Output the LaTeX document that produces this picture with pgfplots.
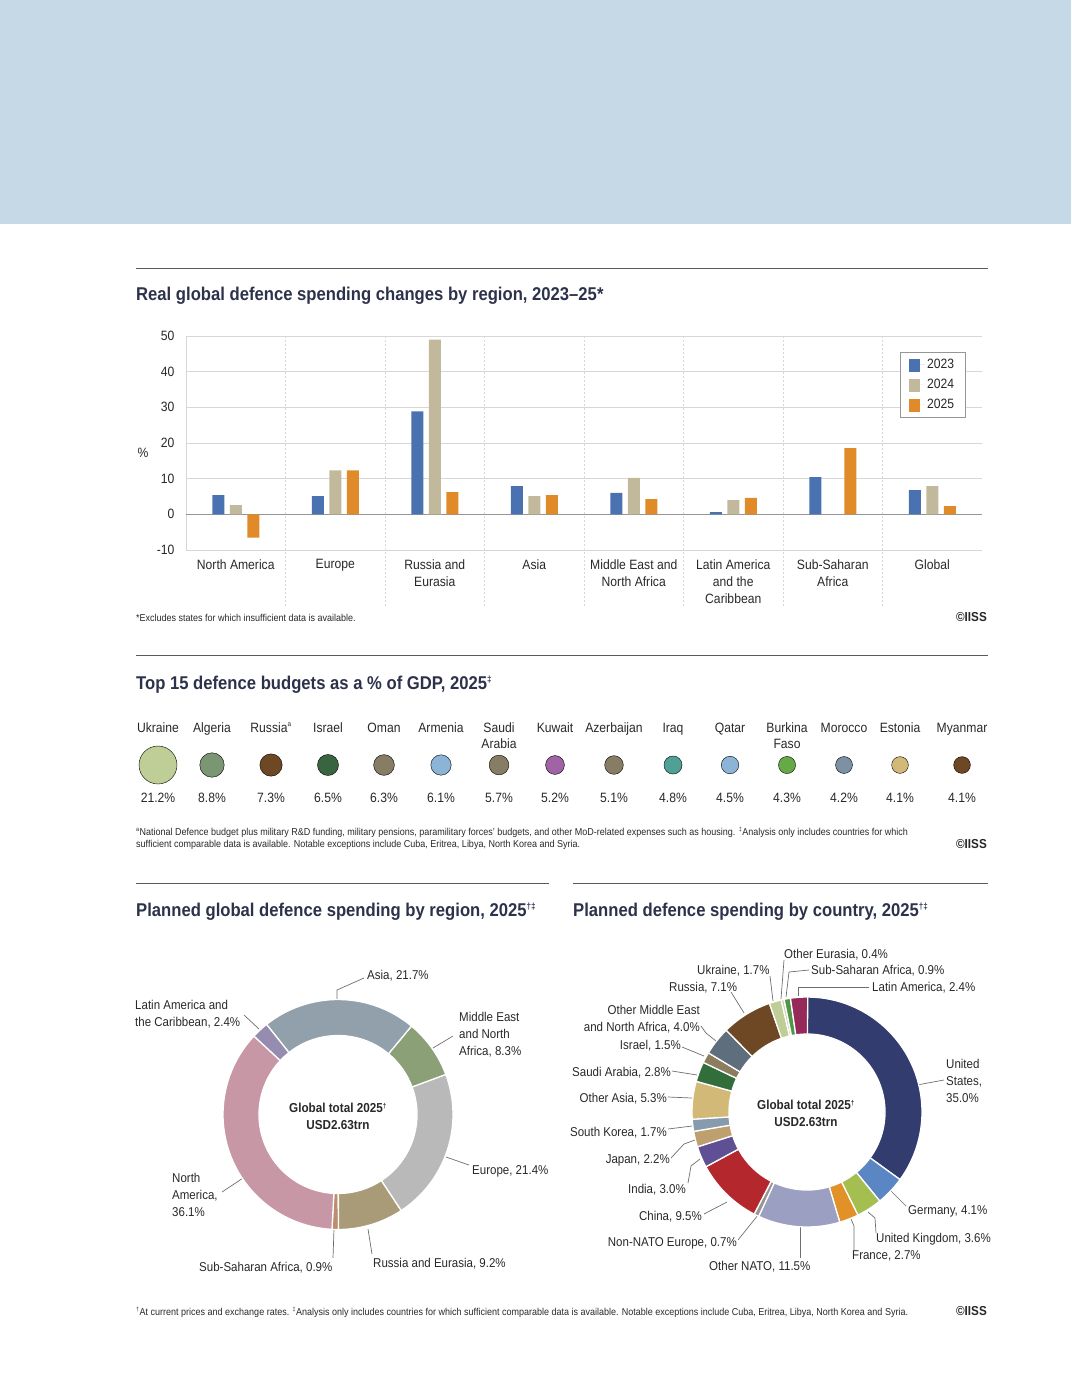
\documentclass[border=0pt]{standalone}
\usepackage{pgfplots}
\pgfplotsset{compat=1.18}
\usepackage{fontspec}
\setmainfont{Liberation Sans}[FakeStretch=0.9]
\definecolor{band}{RGB}{197,217,230}
\definecolor{ttl}{RGB}{45,50,75}
\definecolor{txt}{RGB}{40,40,40}
\definecolor{rule}{RGB}{90,90,90}
\definecolor{gridc}{RGB}{215,215,215}
\definecolor{zeroc}{RGB}{150,150,150}
\definecolor{lead}{RGB}{110,110,110}
\definecolor{c23}{RGB}{74,114,176}
\definecolor{c24}{RGB}{194,185,157}
\definecolor{c25}{RGB}{224,138,42}
% bubbles
\definecolor{bUkr}{RGB}{190,206,150}
\definecolor{bAlg}{RGB}{122,150,115}
\definecolor{bRus}{RGB}{110,72,36}
\definecolor{bIsr}{RGB}{56,100,64}
\definecolor{bOli}{RGB}{135,125,100}
\definecolor{bBlu}{RGB}{140,180,215}
\definecolor{bKuw}{RGB}{160,100,165}
\definecolor{bIrq}{RGB}{80,160,150}
\definecolor{bBur}{RGB}{100,170,70}
\definecolor{bMor}{RGB}{125,145,165}
\definecolor{bEst}{RGB}{210,185,120}
% left donut
\definecolor{rNA}{RGB}{200,151,165}
\definecolor{rLA}{RGB}{150,140,175}
\definecolor{rAS}{RGB}{145,160,170}
\definecolor{rME}{RGB}{140,160,120}
\definecolor{rEU}{RGB}{185,185,185}
\definecolor{rRU}{RGB}{170,155,120}
\definecolor{rSS}{RGB}{190,140,110}
% right donut
\definecolor{kUS}{RGB}{50,60,110}
\definecolor{kDE}{RGB}{90,135,195}
\definecolor{kUK}{RGB}{165,190,80}
\definecolor{kFR}{RGB}{225,145,40}
\definecolor{kON}{RGB}{155,160,195}
\definecolor{kNN}{RGB}{150,150,150}
\definecolor{kCN}{RGB}{180,40,45}
\definecolor{kIN}{RGB}{95,80,150}
\definecolor{kJP}{RGB}{190,160,110}
\definecolor{kKR}{RGB}{135,155,175}
\definecolor{kOA}{RGB}{210,185,120}
\definecolor{kSA}{RGB}{50,110,60}
\definecolor{kIL}{RGB}{140,125,95}
\definecolor{kOM}{RGB}{95,110,125}
\definecolor{kRU}{RGB}{110,72,36}
\definecolor{kUA}{RGB}{190,206,150}
\definecolor{kOE}{RGB}{205,205,185}
\definecolor{kSS}{RGB}{80,150,70}
\definecolor{kLA}{RGB}{150,40,90}

\newcommand\fs[1]{\fontsize{#1}{#1}\selectfont}
\newcommand\bub[3]{\addplot[only marks, mark=*, mark options={draw=none, fill=#3}, mark size={19*sqrt(#2/21.2)}] coordinates {(#1,0)};}
% donut slice: value, colour
\newcommand\slice[2]{%
  \pgfmathsetmacro\aE{\aS+\dirn*3.6*#1}%
  \edef\temp{\noexpand\fill[#2, draw=white, line width=1.3pt] (axis cs:{\Ro*cos(\aS)},{\Ro*sin(\aS)}) arc[start angle=\aS, end angle=\aE, radius=\Ro pt] -- (axis cs:{\Ri*cos(\aE)},{\Ri*sin(\aE)}) arc[start angle=\aE, end angle=\aS, radius=\Ri pt] -- cycle;}%
  \temp
  \global\let\aS\aE}
\newcommand\lab[4]{\node[anchor=base #3, inner sep=0pt, text=txt, font=\fs{12.8}] at (#1,#2) {#4};}
\newcommand\legsq[1]{\fill[#1] (0pt,-7pt) rectangle (11pt,6pt); \path (0pt,0pt) -- (16pt,0pt);}

\begin{document}
\begin{tikzpicture}
\path[use as bounding box] (0,0) rectangle (1071pt,-1394pt);
\fill[band] (0,0) rectangle (1071pt,-224pt);
\begin{scope}[x=1pt,y=-1pt]
% ---- section 1
\draw[rule, line width=0.8pt] (136,268) -- (988,268);
\node[anchor=base west, inner sep=0pt, text=ttl, font=\bfseries\fs{18.5}] at (136,300) {Real global defence spending changes by region, 2023–25*};
\node[text=txt, font=\fs{13.5}, inner sep=0pt] at (143,453) {\%};
\node[anchor=base west, inner sep=0pt, text=txt, font=\fs{10}] at (136,621) {*Excludes states for which insufficient data is available.};
\node[anchor=base east, inner sep=0pt, text=txt, font=\bfseries\fs{13}] at (987,621) {©IISS};
% ---- section 2
\draw[rule, line width=0.8pt] (136,655) -- (988,655);
\node[anchor=base west, inner sep=0pt, text=ttl, font=\bfseries\fs{18.5}] at (136,689) {Top 15 defence budgets as a \% of GDP, 2025\textsuperscript{\fs{9}‡}};
\foreach \x/\n/\v in {158/Ukraine/21.2, 212/Algeria/8.8, 328/Israel/6.5, 384/Oman/6.3, 441/Armenia/6.1, 555/Kuwait/5.2, 614/Azerbaijan/5.1, 673/Iraq/4.8, 730/Qatar/4.5, 844/Morocco/4.2, 900/Estonia/4.1, 962/Myanmar/4.1, 271/Russia/7.3, 499/Saudi/5.7, 787/Burkina/4.3}{
  \node[anchor=base, inner sep=0pt, text=txt, font=\fs{13.5}] at (\x,802) {\v\%};}
\foreach \x/\n in {158/Ukraine, 212/Algeria, 328/Israel, 384/Oman, 441/Armenia, 555/Kuwait, 614/Azerbaijan, 673/Iraq, 730/Qatar, 844/Morocco, 900/Estonia, 962/Myanmar, 499/Saudi, 787/Burkina}{
  \node[anchor=base, inner sep=0pt, text=txt, font=\fs{13.5}] at (\x,732) {\n};}
\node[anchor=base, inner sep=0pt, text=txt, font=\fs{13.5}] at (271,732) {Russia\textsuperscript{\fs{7}a}};
\node[anchor=base, inner sep=0pt, text=txt, font=\fs{13.5}] at (499,748) {Arabia};
\node[anchor=base, inner sep=0pt, text=txt, font=\fs{13.5}] at (787,748) {Faso};
\node[anchor=base west, inner sep=0pt, text=txt, font=\fs{10}] at (136,835) {\textsuperscript{\fs{6}a}National Defence budget plus military R\&D funding, military pensions, paramilitary forces’ budgets, and other MoD-related expenses such as housing. \textsuperscript{\fs{6}‡}Analysis only includes countries for which};
\node[anchor=base west, inner sep=0pt, text=txt, font=\fs{10}] at (136,847) {sufficient comparable data is available. Notable exceptions include Cuba, Eritrea, Libya, North Korea and Syria.};
\node[anchor=base east, inner sep=0pt, text=txt, font=\bfseries\fs{13}] at (987,848) {©IISS};
% ---- section 3
\draw[rule, line width=0.8pt] (136,883) -- (549,883);
\draw[rule, line width=0.8pt] (573,883) -- (988,883);
\node[anchor=base west, inner sep=0pt, text=ttl, font=\bfseries\fs{18.5}] at (136,916) {Planned global defence spending by region, 2025\textsuperscript{\fs{9}†‡}};
\node[anchor=base west, inner sep=0pt, text=ttl, font=\bfseries\fs{18.5}] at (573,916) {Planned defence spending by country, 2025\textsuperscript{\fs{9}†‡}};
\node[anchor=base west, inner sep=0pt, text=txt, font=\fs{10}] at (136,1315) {\textsuperscript{\fs{6}†}At current prices and exchange rates. \textsuperscript{\fs{6}‡}Analysis only includes countries for which sufficient comparable data is available. Notable exceptions include Cuba, Eritrea, Libya, North Korea and Syria.};
\node[anchor=base east, inner sep=0pt, text=txt, font=\bfseries\fs{13}] at (987,1315) {©IISS};
% left donut labels
\lab{367}{979}{west}{Asia, 21.7\%}
\lab{135}{1009}{west}{Latin America and}
\lab{135}{1026}{west}{the Caribbean, 2.4\%}
\lab{459}{1021}{west}{Middle East}
\lab{459}{1038}{west}{and North}
\lab{459}{1055}{west}{Africa, 8.3\%}
\lab{472}{1174}{west}{Europe, 21.4\%}
\lab{373}{1267}{west}{Russia and Eurasia, 9.2\%}
\lab{199}{1271}{west}{Sub-Saharan Africa, 0.9\%}
\lab{172}{1182}{west}{North}
\lab{172}{1199}{west}{America,}
\lab{172}{1216}{west}{36.1\%}
\node[inner sep=0pt, text=txt, font=\bfseries\fs{13}, align=center] at (338,1108) {Global total 2025\textsuperscript{\fs{7}†}};
\node[inner sep=0pt, text=txt, font=\bfseries\fs{13}] at (338,1125) {USD2.63trn};
\begin{scope}[draw=lead, line width=0.7pt]
\draw (337,999) -- (337,990) -- (364,978);
\draw (259,1029) -- (244,1015);
\draw (433,1048) -- (453,1036);
\draw (446,1157) -- (469,1165);
\draw (368,1229) -- (372,1254);
\draw (334,1229) -- (333,1258);
\draw (243,1178) -- (222,1192);
\end{scope}
% right donut labels
\lab{784}{958}{west}{Other Eurasia, 0.4\%}
\lab{697}{974}{west}{Ukraine, 1.7\%}
\lab{811}{974}{west}{Sub-Saharan Africa, 0.9\%}
\lab{669}{991}{west}{Russia, 7.1\%}
\lab{872}{991}{west}{Latin America, 2.4\%}
\lab{700}{1014}{east}{Other Middle East}
\lab{700}{1031}{east}{and North Africa, 4.0\%}
\lab{681}{1049}{east}{Israel, 1.5\%}
\lab{671}{1076}{east}{Saudi Arabia, 2.8\%}
\lab{667}{1102}{east}{Other Asia, 5.3\%}
\lab{667}{1136}{east}{South Korea, 1.7\%}
\lab{670}{1163}{east}{Japan, 2.2\%}
\lab{686}{1193}{east}{India, 3.0\%}
\lab{702}{1220}{east}{China, 9.5\%}
\lab{737}{1246}{east}{Non-NATO Europe, 0.7\%}
\lab{709}{1270}{west}{Other NATO, 11.5\%}
\lab{852}{1259}{west}{France, 2.7\%}
\lab{876}{1242}{west}{United Kingdom, 3.6\%}
\lab{908}{1214}{west}{Germany, 4.1\%}
\lab{946}{1068}{west}{United}
\lab{946}{1085}{west}{States,}
\lab{946}{1102}{west}{35.0\%}
\node[inner sep=0pt, text=txt, font=\bfseries\fs{13}] at (806,1105) {Global total 2025\textsuperscript{\fs{7}†}};
\node[inner sep=0pt, text=txt, font=\bfseries\fs{13}] at (806,1122) {USD2.63trn};
\begin{scope}[draw=lead, line width=0.7pt]
\draw (917,1085) -- (944,1080);
\draw (891,1191) -- (906,1206);
\draw (868,1212) -- (875,1218) -- (876,1233);
\draw (851,1219) -- (854,1226) -- (854,1250);
\draw (800,1227) -- (800,1258);
\draw (758,1215) -- (738,1240);
\draw (727,1202) -- (704,1214);
\draw (700,1159) -- (691,1166) -- (688,1183);
\draw (695,1140) -- (684,1144) -- (671,1158);
\draw (692,1126) -- (668,1129);
\draw (692,1098) -- (668,1097);
\draw (697,1075) -- (672,1071);
\draw (704,1056) -- (682,1047);
\draw (716,1041) -- (706,1033) -- (701,1026);
\draw (744,1013) -- (731,992);
\draw (773,1001) -- (770,976);
\draw (781,999) -- (784,960);
\draw (786,997) -- (789,972) -- (809,970);
\draw (798,996) -- (798,987) -- (869,987);
\end{scope}
\end{scope}

% ================= bar chart
\begin{axis}[
  at={(186pt,-550pt)}, anchor=south west,
  width=796pt, height=214pt, scale only axis,
  xmin=-0.5, xmax=7.5, ymin=-10, ymax=50,
  ybar=5.5pt, bar width=12pt,
  ytick={-10,0,...,50}, xtick={0,...,7},
  xticklabels={North America, Europe, {Russia and\\Eurasia}, Asia, {Middle East and\\North Africa}, {Latin America\\and the\\Caribbean}, {Sub-Saharan\\Africa}, Global},
  xticklabel style={align=center, font=\fontsize{13.5}{17}\selectfont, text=txt, yshift=-6pt},
  yticklabel style={font=\fs{13.5}, text=txt, xshift=-8pt},
  /pgf/number format/assume math mode=true,
  major tick length=0pt,
  ymajorgrids, grid style={draw=gridc, line width=0.8pt},
  axis lines*=left, axis line style={draw=gridc, line width=0.8pt},
  clip=false,
  legend style={at={(rel axis cs:0.897,0.925)}, anchor=north west, draw=zeroc, font=\fs{13.5}, text=txt, row sep=5pt, inner xsep=9pt, inner ysep=5pt, cells={anchor=west}},
]
\foreach \xx in {0.5,1.5,...,6.5}{
  \edef\temp{\noexpand\draw[gridc, dash pattern=on 2pt off 2pt, line width=0.7pt] (axis cs:\xx,50) -- (axis cs:\xx,-10) -- ++(0pt,-57pt);}\temp}
\draw[zeroc, line width=0.9pt] (axis cs:-0.5,0) -- (axis cs:7.5,0);
\addplot[fill=c23, draw=none, legend image code/.code={\legsq{c23}}] coordinates {(0,5.4) (1,5.1) (2,28.9) (3,7.9) (4,6.0) (5,0.65) (6,10.4) (7,6.8)};
\addplot[fill=c24, draw=none, legend image code/.code={\legsq{c24}}] coordinates {(0,2.6) (1,12.3) (2,49.0) (3,5.1) (4,10.2) (5,4.0) (7,7.9)};
\addplot[fill=c25, draw=none, legend image code/.code={\legsq{c25}}] coordinates {(0,-6.5) (1,12.3) (2,6.25) (3,5.4) (4,4.3) (5,4.6) (6,18.6) (7,2.3)};
\legend{2023,2024,2025}
\end{axis}

% ================= bubbles
\begin{axis}[at={(0pt,-790pt)}, anchor=south west, x=1pt, y=1pt,
  xmin=0, xmax=1071, ymin=-25, ymax=25, hide axis, clip=false]
\bub{158}{21.2}{bUkr}
\bub{212}{8.8}{bAlg}
\bub{271}{7.3}{bRus}
\bub{328}{6.5}{bIsr}
\bub{384}{6.3}{bOli}
\bub{441}{6.1}{bBlu}
\bub{499}{5.7}{bOli}
\bub{555}{5.2}{bKuw}
\bub{614}{5.1}{bOli}
\bub{673}{4.8}{bIrq}
\bub{730}{4.5}{bBlu}
\bub{787}{4.3}{bBur}
\bub{844}{4.2}{bMor}
\bub{900}{4.1}{bEst}
\bub{962}{4.1}{bRus}
\end{axis}

% ================= left donut
\begin{axis}[at={(188pt,-1264.5pt)}, anchor=south west, x=1pt, y=1pt,
  xmin=-150, xmax=150, ymin=-150, ymax=150, hide axis, clip=false]
\gdef\aS{267}\gdef\dirn{1}\gdef\Ro{115}\gdef\Ri{79}
\slice{0.9}{rSS}
\slice{9.2}{rRU}
\slice{21.4}{rEU}
\slice{8.3}{rME}
\slice{21.7}{rAS}
\slice{2.4}{rLA}
\slice{36.1}{rNA}
\end{axis}

% ================= right donut
\begin{axis}[at={(657pt,-1262pt)}, anchor=south west, x=1pt, y=1pt,
  xmin=-150, xmax=150, ymin=-150, ymax=150, hide axis, clip=false]
\gdef\aS{90}\gdef\dirn{-1}\gdef\Ro{115}\gdef\Ri{78}
\slice{35.0}{kUS}
\slice{4.1}{kDE}
\slice{3.6}{kUK}
\slice{2.7}{kFR}
\slice{11.5}{kON}
\slice{0.7}{kNN}
\slice{9.5}{kCN}
\slice{3.0}{kIN}
\slice{2.2}{kJP}
\slice{1.7}{kKR}
\slice{5.3}{kOA}
\slice{2.8}{kSA}
\slice{1.5}{kIL}
\slice{4.0}{kOM}
\slice{7.1}{kRU}
\slice{1.7}{kUA}
\slice{0.4}{kOE}
\slice{0.9}{kSS}
\slice{2.4}{kLA}
\end{axis}
\end{tikzpicture}
\end{document}
